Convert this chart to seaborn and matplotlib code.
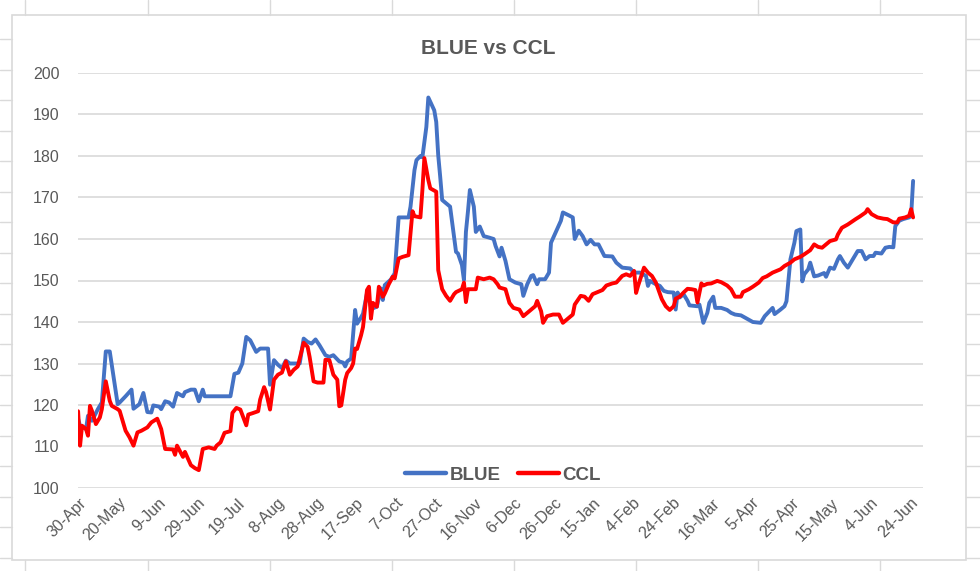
import matplotlib
matplotlib.use("Agg")
import matplotlib.pyplot as plt
import seaborn as sns
import pandas as pd
from matplotlib.lines import Line2D
from matplotlib.patches import Rectangle
from matplotlib.transforms import ScaledTranslation

# ---------------- data ----------------
start_date = "2020-04-30"
title = "BLUE vs CCL"
series_names = ["BLUE", "CCL"]

# days since start_date
blue_days = [0, 1, 4, 5, 7, 10, 12, 14, 16, 18, 20, 21, 24, 27, 28, 31, 33, 35, 37, 38,
             41, 42, 44, 46, 48, 50, 53, 54, 57, 59, 61, 63, 64, 77, 79, 81, 83, 85, 87, 90,
             92, 96, 97, 99, 101, 103, 105, 107, 112, 114, 116, 118, 120, 122, 125, 127, 129, 132, 134, 135,
             136, 138, 140, 141, 143, 144, 146, 148, 149, 151, 153, 154, 155, 158, 160, 162, 167, 168, 170, 171,
             173, 174, 176, 177, 180, 181, 182, 183, 184, 186, 188, 190, 191, 192, 194, 195, 196, 197, 198, 200,
             201, 203, 205, 208, 210, 211, 213, 214, 216, 218, 221, 224, 225, 227, 229, 230, 232, 233, 236, 238,
             239, 241, 244, 245, 248, 250, 251, 253, 255, 257, 259, 261, 263, 266, 270, 272, 275, 279, 281, 284,
             287, 288, 289, 292, 294, 296, 298, 301, 302, 303, 304, 306, 308, 309, 313, 314, 316, 318, 319, 321,
             322, 325, 328, 330, 332, 335, 338, 341, 345, 347, 351, 352, 355, 357, 358, 360, 362, 363, 365, 366,
             367, 369, 370, 372, 374, 377, 378, 380, 382, 384, 385, 387, 389, 391, 394, 396, 398, 400, 402, 403,
             406, 408, 410, 412, 413, 415, 417, 420, 421, 422]
blue_vals = [116.6, 115, 114.2, 117.4, 116.2, 119, 120.6, 132.9, 132.9, 126.5, 120.2, 120.6, 122.1, 123.7, 119.1, 120.2, 122.9, 118.3, 118.2, 119.9,
             119.6, 119, 120.9, 120.6, 119.6, 122.9, 122.1, 123.1, 123.7, 123.7, 120.9, 123.7, 122.1, 122.1, 127.5, 127.8, 130, 136.4, 135.6, 132.8,
             133.6, 133.6, 124.9, 130.8, 129.7, 128.9, 130.7, 130, 130, 136, 135.2, 134.8, 135.8, 134.4, 132, 131.6, 132, 130.5, 130.2, 129.3,
             130.5, 131.2, 142.9, 139.6, 141.1, 142, 146.9, 143.7, 143.3, 143.7, 148.1, 145.3, 148.9, 150.2, 151.7, 165.2, 165.2, 167.8, 176.6, 179,
             180, 179.7, 187, 194.1, 191, 188.2, 180.2, 175, 169.4, 168.6, 167.8, 160.5, 156.9, 156.5, 153.7, 150.1, 161.7, 166.5, 171.8, 167.8,
             161.7, 163, 160.7, 160.3, 160, 158.3, 155.8, 157.9, 154.7, 150.3, 149.5, 149.1, 146.3, 149.1, 151.1, 151.3, 149.1, 150.3, 150.3, 151.9,
             159.1, 161.2, 164.4, 166.4, 165.7, 165.2, 160, 162, 160.7, 158.7, 159.8, 158.7, 158.7, 155.9, 155.8, 154.3, 153.1, 152.9, 151.9, 151.9,
             151.1, 148.7, 149.9, 149.1, 148.7, 147.5, 147.2, 147.1, 143, 147.1, 145.9, 146.7, 145.1, 144, 143.8, 144.2, 139.8, 142.2, 144.6, 146.1,
             143.4, 143.4, 142.9, 142.2, 141.8, 141.6, 140.8, 140, 139.8, 141.4, 143.4, 141.9, 143, 143.8, 145, 155.1, 159.1, 161.9, 162.3, 149.8,
             151.5, 152.7, 154.3, 151, 151.2, 151.8, 150.9, 153.1, 152.8, 155.1, 155.9, 154.3, 153.1, 154.7, 157.1, 157.1, 155.1, 155.9, 155.9, 156.7,
             156.5, 157.9, 158.1, 158, 163.1, 164.4, 164.8, 165.2, 165.6, 174]

ccl_days = [0, 1, 2, 4, 5, 6, 7, 9, 11, 12, 14, 16, 17, 20, 21, 24, 26, 28, 30, 32,
            35, 37, 40, 42, 44, 48, 49, 50, 53, 54, 57, 59, 61, 63, 66, 69, 70, 72, 74, 77,
            78, 80, 82, 85, 86, 88, 91, 92, 94, 95, 97, 99, 101, 103, 105, 107, 109, 111, 114, 116,
            117, 119, 121, 124, 125, 127, 129, 131, 132, 133, 135, 136, 138, 139, 140, 141, 143, 144, 146, 147,
            148, 149, 151, 152, 154, 155, 157, 159, 160, 162, 164, 167, 169, 170, 173, 174, 175, 177, 178, 181,
            182, 184, 186, 188, 190, 191, 194, 195, 196, 197, 201, 202, 205, 208, 210, 212, 213, 216, 218, 220,
            223, 225, 227, 229, 231, 232, 234, 235, 237, 240, 243, 245, 247, 250, 251, 254, 256, 258, 260, 262,
            265, 267, 270, 272, 275, 277, 279, 281, 282, 283, 286, 288, 290, 292, 295, 297, 299, 301, 302, 304,
            306, 308, 310, 312, 313, 315, 316, 318, 320, 323, 325, 328, 330, 332, 335, 336, 339, 341, 344, 346,
            348, 351, 355, 357, 360, 362, 365, 367, 370, 372, 374, 376, 378, 380, 383, 384, 386, 389, 393, 395,
            398, 399, 401, 404, 407, 409, 412, 414, 415, 418, 420, 421, 422]
ccl_vals = [118.5, 110.2, 115, 114.2, 112.6, 119.8, 118.6, 115.4, 117, 119, 125.7, 121, 119.8, 119, 118.6, 113.8, 112.2, 110.2, 113.4, 113.8,
            114.6, 115.8, 116.7, 114.2, 109.4, 109.3, 108, 110.2, 107.5, 108.7, 105.5, 104.8, 104.3, 109.4, 109.8, 109.4, 110.2, 111, 113.3, 113.7,
            118.1, 119.3, 118.9, 115.1, 117.7, 118, 118.5, 121.3, 124.3, 123.1, 118.9, 126.1, 127.3, 127.8, 130.5, 127.3, 128.5, 129.3, 135, 134,
            131.6, 125.7, 125.4, 125.4, 130.9, 130.8, 127.3, 126.1, 119.7, 119.9, 126.1, 127.7, 128.9, 130, 133.6, 133.5, 136.8, 138.8, 147.7, 148.5,
            140.8, 144.6, 143.7, 148.5, 146.1, 146.9, 149.1, 150.9, 150.5, 155.3, 155.7, 156.1, 166.7, 165.5, 165.2, 171.8, 179.5, 174.2, 172.2, 171.4,
            152.5, 147.9, 146.3, 145.1, 146.7, 147.2, 147.9, 149.5, 144.8, 147.9, 147.9, 150.7, 150.3, 150.7, 150.3, 149.1, 148.3, 147.9, 144.6, 143.4,
            143, 141.4, 142.2, 143, 143.8, 145.1, 142.6, 139.8, 141.4, 141.8, 141.8, 139.8, 140.6, 141.8, 144.2, 146.3, 146.1, 145.1, 146.7, 147.1,
            147.7, 148.8, 149.3, 149.5, 151.1, 151.5, 151.1, 152.3, 147, 148.7, 153.1, 151.9, 151.1, 149.5, 145.5, 143.8, 142.9, 143.8, 145.6, 146.1,
            147.1, 148, 147.9, 147.7, 144.7, 149.3, 148.8, 149.2, 149.3, 149.9, 149.6, 148.8, 147.9, 146.1, 146.1, 147.2, 147.9, 148.5, 149.5, 150.6,
            151, 151.9, 152.7, 153.5, 154.3, 155.1, 155.7, 156.3, 157.3, 158.7, 158.1, 157.9, 158.7, 159.5, 159.9, 161.1, 162.7, 163.5, 164.8, 165.4,
            166.4, 167.2, 166, 165.2, 164.9, 164.8, 164, 164, 164.9, 165.2, 165.6, 167.2, 165.2]

x_tick_labels = ["30-Apr", "20-May", "9-Jun", "29-Jun", "19-Jul", "8-Aug", "28-Aug", "17-Sep",
                 "7-Oct", "27-Oct", "16-Nov", "6-Dec", "26-Dec", "15-Jan", "4-Feb", "24-Feb",
                 "16-Mar", "5-Apr", "25-Apr", "15-May", "4-Jun", "24-Jun"]
y_ticks = [100, 110, 120, 130, 140, 150, 160, 170, 180, 190, 200]

colors = {"BLUE": "#4472C4", "CCL": "#FF0000"}
text_gray = "#595959"
grid_gray = "#D9D9D9"

# ---------------- build table ----------------
start = pd.Timestamp(start_date)
df = pd.concat([
    pd.DataFrame({"date": start + pd.to_timedelta(blue_days, unit="D"),
                  "value": blue_vals, "series": series_names[0]}),
    pd.DataFrame({"date": start + pd.to_timedelta(ccl_days, unit="D"),
                  "value": ccl_vals, "series": series_names[1]}),
], ignore_index=True)

# ---------------- figure ----------------
sns.set_theme(style="white")
plt.rcParams["font.family"] = ["Liberation Sans", "DejaVu Sans"]

W, H = 980, 571
fig = plt.figure(figsize=(W / 100, H / 100), dpi=100)
fig.patch.set_facecolor("white")

left_px, right_px, top_px, bottom_px = 77.5, 923, 73, 488
ax = fig.add_axes([left_px / W, 1 - bottom_px / H,
                   (right_px - left_px) / W, (bottom_px - top_px) / H])

sns.lineplot(data=df, x="date", y="value", hue="series", palette=colors,
             estimator=None, sort=False, linewidth=2.8, legend=False, ax=ax)
for ln in ax.get_lines():
    ln.set_solid_joinstyle("round")
    ln.set_solid_capstyle("round")

ax.set_ylim(100, 200)
ax.set_yticks(y_ticks)
ax.set_xlim(start - pd.Timedelta(days=0.3), start + pd.Timedelta(days=427))
tick_dates = pd.date_range(start, periods=len(x_tick_labels), freq="20D")
ax.set_xticks(tick_dates)
ax.set_xticklabels(x_tick_labels, rotation=45, ha="right", va="center",
                   rotation_mode="anchor", fontsize=11.5, color=text_gray)
ax.tick_params(axis="x", length=0, pad=9)
ax.tick_params(axis="y", length=0, pad=13, labelsize=11.5, labelcolor=text_gray)
ax.set_xlabel("")
ax.set_ylabel("")
ax.yaxis.grid(True, color=grid_gray, linewidth=1.2)
ax.xaxis.grid(False)
ax.set_axisbelow(True)
for s in ax.spines.values():
    s.set_visible(False)
ax.patch.set_alpha(0)

offset = ScaledTranslation(6 / 100, 0, fig.dpi_scale_trans)
for lbl in ax.get_xticklabels():
    lbl.set_transform(lbl.get_transform() + offset)

# title
fig.text(488 / W, 1 - 48 / H, title, ha="center", va="center",
         fontsize=15, fontweight="bold", color=text_gray)

# legend
handles = [Line2D([], [], color=colors[n], lw=3.2) for n in series_names]
fig.legend(handles, series_names, loc="center", bbox_to_anchor=(503 / W, 1 - 475 / H),
           ncol=2, frameon=False, prop={"weight": "bold", "size": 13.5},
           labelcolor=text_gray, handlelength=2.2, handletextpad=0.2, columnspacing=0.9)

# chart border
fig.add_artist(Rectangle((12 / W, 1 - 560 / H), (966 - 12) / W, (560 - 15) / H,
                         transform=fig.transFigure, fill=False,
                         edgecolor=grid_gray, linewidth=1.2))
# spreadsheet cell gridlines peeking out around the chart
cell_gray = "#DADADA"
for cx in [25, 148, 270, 392, 514, 636, 758, 880]:
    fig.add_artist(Line2D([cx / W, cx / W], [1, 1 - 15 / H], transform=fig.transFigure,
                          color=cell_gray, lw=1))
    fig.add_artist(Line2D([cx / W, cx / W], [1 - 560 / H, 0], transform=fig.transFigure,
                          color=cell_gray, lw=1))
ry = 8.5
while ry < H:
    if 15 < ry < 560:
        fig.add_artist(Line2D([0, 12 / W], [1 - ry / H, 1 - ry / H], transform=fig.transFigure,
                              color=cell_gray, lw=1))
        fig.add_artist(Line2D([966 / W, 1], [1 - ry / H, 1 - ry / H], transform=fig.transFigure,
                              color=cell_gray, lw=1))
    ry += 30.5

fig.savefig("out.png", dpi=100)
